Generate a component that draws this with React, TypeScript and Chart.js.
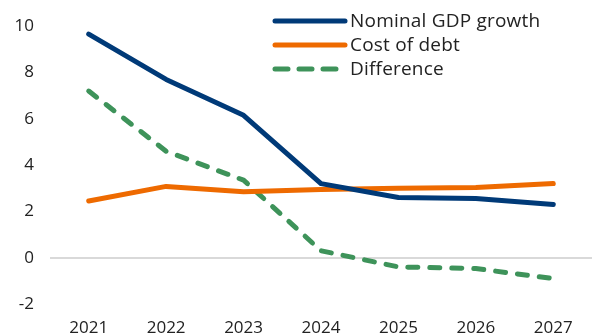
import React, { useEffect, useRef } from "react";
import { Chart, registerables } from "chart.js";

Chart.register(...registerables);

const categories = ["2021", "2022", "2023", "2024", "2025", "2026", "2027"];
const nominalGdpGrowth = [9.66, 7.7, 6.15, 3.2, 2.6, 2.56, 2.3];
const costOfDebt = [2.45, 3.08, 2.85, 2.95, 3.0, 3.03, 3.2];
const difference = [7.2, 4.6, 3.35, 0.3, -0.4, -0.47, -0.9];
const seriesNames = ["Nominal GDP growth", "Cost of debt", "Difference"];
const yTickMin = -2;
const yTickMax = 10;
const yTickStep = 2;

const BLUE = "#003a78";
const ORANGE = "#ee6a00";
const GREEN = "#3e935a";
const FONT = "'Open Sans', sans-serif";
const TEXT = "#222222";

const legendPlugin = {
  id: "floatingLegend",
  afterDraw(chart: any) {
    const ctx = chart.ctx;
    const items = chart.data.datasets;
    const x0 = chart.width - 319;
    const lineLen = 72;
    const rowH = 24;
    const y0 = 21;
    ctx.save();
    items.forEach((ds: any, i: number) => {
      const y = y0 + i * rowH;
      ctx.beginPath();
      ctx.strokeStyle = ds.borderColor;
      ctx.lineWidth = 5;
      ctx.lineCap = "round";
      ctx.setLineDash(ds.borderDash && ds.borderDash.length ? [13, 11] : []);
      ctx.moveTo(x0 + 2, y);
      ctx.lineTo(x0 + lineLen, y);
      ctx.stroke();
      ctx.setLineDash([]);
      ctx.fillStyle = TEXT;
      ctx.font = `19px ${FONT}`;
      try {
        (ctx as any).letterSpacing = "0.2px";
      } catch (e) {}
      ctx.textBaseline = "middle";
      ctx.textAlign = "left";
      ctx.fillText(ds.label, x0 + lineLen + 5, y + 1);
    });
    ctx.restore();
  },
};

export default function App() {
  const ref = useRef<HTMLCanvasElement | null>(null);
  useEffect(() => {
    if (!ref.current) return;
    const common = {
      borderWidth: 5,
      pointRadius: 0,
      tension: 0,
      borderCapStyle: "round" as const,
      borderJoinStyle: "round" as const,
    };
    const chart = new Chart(ref.current, {
      type: "line",
      data: {
        labels: categories,
        datasets: [
          { label: seriesNames[0], data: nominalGdpGrowth, borderColor: BLUE, backgroundColor: BLUE, ...common },
          { label: seriesNames[1], data: costOfDebt, borderColor: ORANGE, backgroundColor: ORANGE, ...common },
          {
            label: seriesNames[2],
            data: difference,
            borderColor: GREEN,
            backgroundColor: GREEN,
            borderDash: [10, 12],
            ...common,
          },
        ],
      },
      options: {
        animation: false,
        responsive: true,
        maintainAspectRatio: false,
        layout: { padding: { top: 14, right: 0, left: 0, bottom: 0 } },
        plugins: {
          legend: { display: false },
          tooltip: { enabled: false },
        },
        scales: {
          x: {
            offset: true,
            grid: { display: false },
            border: { display: false },
            ticks: {
              color: TEXT,
              font: { family: FONT, size: 17 },
              padding: 6,
              maxRotation: 0,
            },
            afterFit: (s: any) => {
              s.height = 32;
            },
          },
          y: {
            min: yTickMin,
            max: yTickMax,
            border: { display: false },
            grid: {
              color: (c: any) => (c.tick && c.tick.value === 0 ? "#d9d9d9" : "rgba(0,0,0,0)"),
              lineWidth: 2,
              drawTicks: false,
            },
            ticks: {
              stepSize: yTickStep,
              color: TEXT,
              font: { family: FONT, size: 17 },
              padding: 16,
            },
            afterFit: (s: any) => {
              s.width = 50;
            },
          },
        },
      },
      plugins: [legendPlugin],
    });
    return () => chart.destroy();
  }, []);
  return (
    <div style={{ position: "fixed", left: 0, top: 0, width: 592, height: 336, background: "#fff" }}>
      <canvas ref={ref} />
    </div>
  );
}
